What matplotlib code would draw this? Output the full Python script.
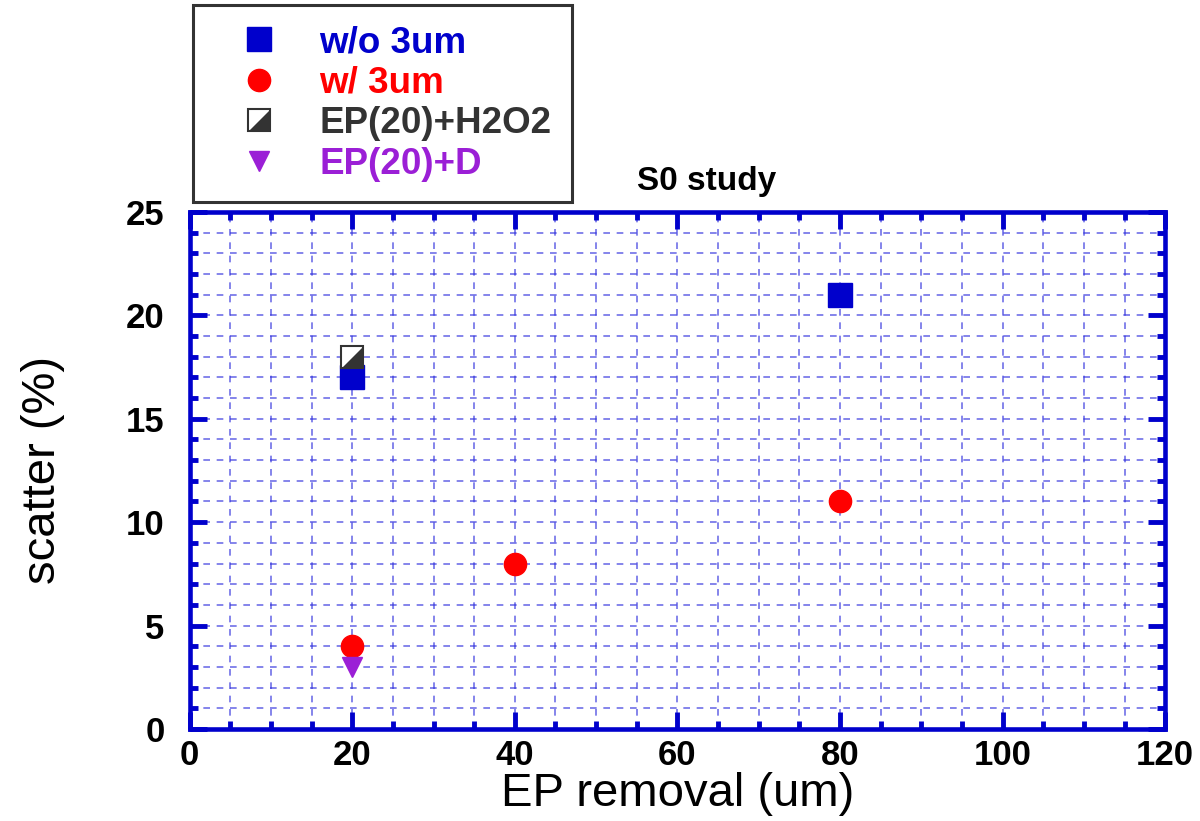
import matplotlib
matplotlib.use('Agg')
import matplotlib.pyplot as plt
from matplotlib.path import Path
from matplotlib.ticker import MultipleLocator

plt.rcParams['font.family'] = ['Liberation Sans', 'DejaVu Sans']

# Data
wo_x = [20, 80]
wo_y = [17, 21]
w_x = [20, 40, 80]
w_y = [4, 8, 11]
h2o2_x = [20]
h2o2_y = [18]
d_x = [20]
d_y = [3]

labels = ['w/o 3um', 'w/ 3um', 'EP(20)+H2O2', 'EP(20)+D']

blue = '#0000cc'
red = '#ff0000'
grey = '#333333'
purple = '#9b1fd6'

# lower-right triangle for the half filled square
half_tri = Path([(-1, -1), (1, 1), (1, -1), (-1, -1)],
                [Path.MOVETO, Path.LINETO, Path.LINETO, Path.CLOSEPOLY])

fig = plt.figure(figsize=(12, 8.21), dpi=100)
ax = fig.add_axes([0.158, 0.112, 0.813, 0.630])

h1, = ax.plot(wo_x, wo_y, 's', color=blue, markersize=17, linestyle='none', zorder=3)
h2, = ax.plot(w_x, w_y, 'o', color=red, markersize=16, linestyle='none', zorder=3)
h3a, = ax.plot(h2o2_x, h2o2_y, 's', markerfacecolor='white', markeredgecolor=grey,
               markeredgewidth=1.5, markersize=16, linestyle='none', zorder=3)
h3b, = ax.plot(h2o2_x, h2o2_y, marker=half_tri, color=grey, markersize=15.5,
               markeredgewidth=0, linestyle='none', zorder=4)
h4, = ax.plot(d_x, d_y, 'v', color=purple, markersize=14, linestyle='none', zorder=3)

ax.set_xlim(0, 120)
ax.set_ylim(0, 25)
ax.xaxis.set_major_locator(MultipleLocator(20))
ax.xaxis.set_minor_locator(MultipleLocator(5))
ax.yaxis.set_major_locator(MultipleLocator(5))
ax.yaxis.set_minor_locator(MultipleLocator(1))

ax.grid(True, which='both', color='#3333dd', linestyle=(0, (4, 4)), linewidth=1.2, alpha=0.7)
ax.set_axisbelow(True)

for s in ax.spines.values():
    s.set_color(blue)
    s.set_linewidth(3.3)

ax.tick_params(which='both', direction='in', top=True, right=True, color=blue)
ax.tick_params(which='major', length=12, width=3.5, labelsize=25)
ax.tick_params(which='minor', length=6, width=3.5)
ax.tick_params(axis='x', which='major', pad=7)
ax.tick_params(axis='y', which='major', pad=18)
for lab in ax.get_xticklabels() + ax.get_yticklabels():
    lab.set_fontweight('bold')

ax.set_xlabel('EP removal (um)', fontsize=34, labelpad=0)
ax.set_ylabel('scatter (%)', fontsize=34, labelpad=44)
ax.set_title('S0 study', fontsize=24, fontweight='bold', pad=16, x=0.53)

leg = fig.legend([h1, h2, (h3a, h3b), h4], labels,
                 loc='upper left', bbox_to_anchor=(0.161, 0.994),
                 fontsize=26.5, frameon=True, fancybox=False, borderpad=0.55,
                 handletextpad=0.38, labelspacing=0.15, handlelength=2.5,
                 borderaxespad=0)
leg.get_frame().set_edgecolor('black')
leg.get_frame().set_linewidth(2.2)
for t, c in zip(leg.get_texts(), [blue, red, grey, purple]):
    t.set_color(c)
    t.set_fontweight('bold')

fig.savefig('out.png', dpi=100)
